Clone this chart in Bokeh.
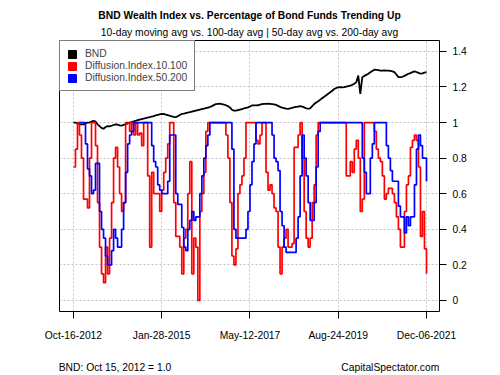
import datetime as dt
import pandas as pd
from bokeh.plotting import figure
from bokeh.models import (ColumnDataSource, FixedTicker, DatetimeTickFormatter, Legend,
                          LegendItem, Range1d, Title, LinearAxis)
from bokeh.embed import file_html
from bokeh.resources import INLINE

nan = float("nan")

# ---------------- data ----------------
START = "2012-10-16"
END = "2021-12-06"

BND = [
    1.0, 1.0, 0.995, 0.99, 0.99, 0.99, 0.995, 1.0, 1.0, 1.005,
    1.01, 1.005, 0.99, 0.98, 0.97, 0.965, 0.975, 0.98, 0.978, 0.982,
    0.986, 0.99, 0.988, 0.984, 0.983, 0.987, 0.99, 0.995, 1.0, 1.003,
    1.006, 1.01, 1.013, 1.016, 1.019, 1.022, 1.025, 1.028, 1.03, 1.033,
    1.036, 1.04, 1.043, 1.046, 1.049, 1.048, 1.045, 1.042, 1.038, 1.035,
    1.032, 1.03, 1.035, 1.042, 1.048, 1.05, 1.053, 1.056, 1.058, 1.061,
    1.064, 1.067, 1.07, 1.073, 1.076, 1.078, 1.081, 1.084, 1.087, 1.092,
    1.098, 1.104, 1.105, 1.106, 1.104, 1.101, 1.097, 1.092, 1.085, 1.072,
    1.067, 1.067, 1.07, 1.073, 1.076, 1.079, 1.082, 1.085, 1.09, 1.096,
    1.096, 1.096, 1.097, 1.1, 1.103, 1.105, 1.105, 1.106, 1.105, 1.104,
    1.102, 1.099, 1.094, 1.088, 1.084, 1.081, 1.078, 1.077, 1.079, 1.082,
    1.086, 1.088, 1.09, 1.092, 1.09, 1.085, 1.08, 1.078, 1.08, 1.092,
    1.104, 1.113, 1.12, 1.128, 1.137, 1.145, 1.153, 1.162, 1.17, 1.179,
    1.188, 1.194, 1.198, 1.199, 1.198, 1.199, 1.202, 1.205, 1.207, 1.212,
    1.218, 1.227, 1.264, 1.161, 1.255, 1.262, 1.268, 1.274, 1.282, 1.29,
    1.297, 1.296, 1.294, 1.292, 1.292, 1.293, 1.292, 1.292, 1.29, 1.287,
    1.283, 1.27, 1.255, 1.255, 1.257, 1.262, 1.268, 1.274, 1.278, 1.283,
    1.287, 1.284, 1.279, 1.275, 1.276, 1.28, 1.283,
]

DI_10_100 = [
    0.75, 0.85, 1.0, 0.93, 0.8, 0.57, 0.57, 0.52, 0.8, 1.0,
    1.0, 0.87, 0.55, 0.3, 0.15, 0.1, 0.3, 0.15, 0.35, 0.55,
    0.8, 0.86, 0.75, 0.6, 0.5, 0.55, 1.0, 1.0, 0.95, 1.0,
    0.93, 1.0, 0.93, 0.94, 0.87, 1.0, 1.0, 0.7, 0.3, 0.72,
    0.6, 0.6, 0.6, 0.5, 0.62, 0.72, 0.8, 0.88, 1.0, 1.0,
    0.55, 0.36, 0.36, 0.3, 0.15, 0.35, 0.4, 0.6, 0.78, 0.15,
    0.35, 0.3, 0.0, 0.5, 0.6, 0.72, 0.95, 1.0, 1.0, 1.0,
    1.0, 1.0, 1.0, 1.0, 1.0, 1.0, 0.93, 0.8, 0.55, 0.25,
    0.2, 0.29, 0.6, 0.65, 0.7, 0.8, 1.0, 1.0, 1.0, 1.0,
    1.0, 0.9, 0.88, 0.93, 1.0, 1.0, 0.72, 0.62, 0.65, 0.6,
    0.52, 0.5, 0.3, 0.15, 0.3, 0.35, 0.4, 0.3, 0.3, 0.32,
    0.86, 0.86, 0.93, 1.0, 0.8, 0.5, 0.35, 0.3, 0.35, 0.55,
    0.65, 0.93, 1.0, 1.0, 1.0, 1.0, 1.0, 1.0, 1.0, 1.0,
    1.0, 1.0, 1.0, 1.0, 1.0, 1.0, 0.7, 0.7, 0.78, 0.72,
    0.85, 0.9, 0.8, 0.5, 0.57, 1.0, 1.0, 1.0, 1.0, 1.0,
    0.95, 0.85, 0.8, 0.78, 0.7, 0.57, 0.6, 0.63, 0.63, 0.6,
    0.55, 0.47, 0.4, 0.3, 0.3, 0.5, 0.65, 0.7, 0.86, 0.9,
    0.93, 0.9, 0.75, 0.36, 0.5, 0.29, 0.15,
]

DI_50_200 = [
    nan, nan, nan, 1.0, 1.0, 1.0, 0.88, 0.74, 0.7, 0.6,
    0.62, 0.77, 0.77, 0.5, 0.4, 0.35, 0.25, 0.2, 0.2, 0.28,
    0.4, 0.35, 0.3, 0.3, 0.4, 0.55, 0.72, 0.88, 0.93, 0.95,
    1.0, 1.0, 1.0, 1.0, 1.0, 1.0, 1.0, 1.0, 1.0, 0.87,
    0.78, 0.75, 0.65, 0.62, 0.6, 0.6, 0.6, 0.67, 0.93, 0.93,
    0.93, 0.6, 0.54, 0.54, 0.41, 0.3, 0.28, 0.4, 0.45, 0.5,
    0.45, 0.47, 0.47, 0.6, 0.7, 0.8, 0.87, 0.93, 1.0, 1.0,
    1.0, 1.0, 1.0, 1.0, 1.0, 1.0, 1.0, 1.0, 1.0, 0.85,
    0.4, 0.35, 0.35, 0.35, 0.35, 0.35, 0.4, 0.5, 0.65, 0.78,
    0.88, 1.0, 1.0, 1.0, 1.0, 1.0, 1.0, 1.0, 1.0, 0.93,
    0.8, 0.78, 0.73, 0.5, 0.42, 0.3, 0.27, 0.27, 0.27, 0.27,
    0.27, 0.35, 0.47, 0.7, 0.93, 0.8, 0.7, 0.55, 0.45, 0.45,
    0.55, 0.75, 0.95, 1.0, 1.0, 1.0, 1.0, 1.0, 1.0, 1.0,
    1.0, 1.0, 1.0, 1.0, 1.0, 1.0, 1.0, 1.0, 1.0, 1.0,
    1.0, 1.0, 1.0, 1.0, 0.8, 0.72, 0.6, 0.6, 0.8, 0.88,
    1.0, 1.0, 1.0, 1.0, 1.0, 1.0, 0.87, 0.8, 0.73, 0.67,
    0.67, 0.67, 0.53, 0.47, 0.47, 0.38, 0.47, 0.42, 0.47, 0.47,
    0.65, 0.85, 0.93, 0.87, 0.8, 0.8, 0.67,
]

SERIES_NAMES = ["BND", "Diffusion.Index.10.100", "Diffusion.Index.50.200"]
SERIES_COLORS = ["black", "red", "blue"]

X_TICK_DATES = ["2012-10-16", "2015-01-28", "2017-05-12", "2019-08-24", "2021-12-06"]
Y_TICKS = [0, 0.2, 0.4, 0.6, 0.8, 1.0, 1.2, 1.4]
Y_TICK_LABELS = ["0", "0.2", "0.4", "0.6", "0.8", "1", "1.2", "1.4"]

TITLE = "BND Wealth Index vs. Percentage of Bond Funds Trending Up"
SUBTITLE = "10-day moving avg vs. 100-day avg | 50-day avg vs. 200-day avg"
NOTE_LEFT = "BND: Oct 15, 2012 = 1.0"
NOTE_RIGHT = "CapitalSpectator.com"

FONT = "Liberation Sans"
FS = "10.3px"

# ---------------- layout constants ----------------
X_START = pd.Timestamp("2012-06-06")
X_END = pd.Timestamp("2022-04-08")
FRAME_LEFT, FRAME_W = 59, 380  # px


def px_to_ms(px):
    """horizontal pixel position (page) -> x value (ms), for placing the footnotes"""
    a, b = X_START.value // 10**6, X_END.value // 10**6
    return int(a + (px - FRAME_LEFT) / FRAME_W * (b - a))


# ---------------- plot ----------------
dates = pd.date_range(START, END, periods=len(BND))
src = ColumnDataSource(dict(date=dates, bnd=BND, d10=DI_10_100, d50=DI_50_200))

p = figure(width=498, height=375, x_axis_type="datetime", y_axis_location="right",
           x_range=Range1d(X_START.to_pydatetime(), X_END.to_pydatetime()),
           y_range=Range1d(-0.062, 1.461),
           output_backend="svg", toolbar_location=None,
           min_border_left=59, min_border_right=59, min_border_top=40, min_border_bottom=64)

p.outline_line_color = "black"
p.outline_line_width = 1
p.background_fill_color = "white"
p.border_fill_color = "white"

x_ticker = FixedTicker(ticks=[pd.Timestamp(d).value // 10**6 for d in X_TICK_DATES])
p.xaxis.ticker = x_ticker
p.xaxis.formatter = DatetimeTickFormatter(
    milliseconds="%b-%d-%Y", seconds="%b-%d-%Y", minsec="%b-%d-%Y", minutes="%b-%d-%Y",
    hourmin="%b-%d-%Y", hours="%b-%d-%Y", days="%b-%d-%Y", months="%b-%d-%Y", years="%b-%d-%Y")
y_ticker = FixedTicker(ticks=Y_TICKS)
p.yaxis.ticker = y_ticker
p.yaxis.major_label_overrides = {t: l for t, l in zip(Y_TICKS, Y_TICK_LABELS)}

for ax in (p.xaxis, p.yaxis):
    ax.axis_line_color = None
    ax.major_tick_line_color = "black"
    ax.major_tick_in = 0
    ax.major_tick_out = 7
    ax.minor_tick_line_color = None
    ax.major_label_text_font = FONT
    ax.major_label_text_font_size = FS
    ax.major_label_text_color = "black"
p.xaxis.major_label_standoff = 11
p.yaxis.major_label_standoff = 6

p.xgrid.ticker = x_ticker
p.ygrid.ticker = y_ticker
for g in (p.xgrid, p.ygrid):
    g.grid_line_color = "#c4c4c4"
    g.grid_line_dash = "2 2"
    g.grid_line_width = 1

p.line("date", "bnd", source=src, color=SERIES_COLORS[0], line_width=1.8)
p.step("date", "d10", source=src, mode="after", color=SERIES_COLORS[1], line_width=1.7)
p.step("date", "d50", source=src, mode="after", color=SERIES_COLORS[2], line_width=1.7)

# legend swatches (not drawn in the plot area: NaN coordinates)
items = []
for name, c in zip(SERIES_NAMES, SERIES_COLORS):
    r = p.quad(left=[nan], right=[nan], top=[nan], bottom=[nan], fill_color=c, line_color=c)
    items.append(LegendItem(label=name, renderers=[r]))

legend = Legend(items=items, location="top_left", margin=0, padding=7, spacing=1,
                glyph_width=10, glyph_height=10, label_height=10, label_standoff=8,
                border_line_color="black", border_line_width=1,
                background_fill_color="white", background_fill_alpha=1,
                label_text_font=FONT, label_text_font_size=FS)
p.add_layout(legend)

# titles (subtitle first: it sits closest to the frame)
p.add_layout(Title(text=SUBTITLE, align="center", text_font=FONT, text_font_size=FS,
                   text_font_style="normal", text_color="black", standoff=5), "above")
p.add_layout(Title(text=TITLE, align="center", text_font=FONT, text_font_size=FS,
                   text_font_style="bold", text_color="black", standoff=3), "above")

# footnotes: a tick-less axis under the date axis carries the two texts
note_ticks = [px_to_ms(114.5), px_to_ms(389.8)]
note_axis = LinearAxis(ticker=FixedTicker(ticks=note_ticks),
                       major_label_overrides={note_ticks[0]: NOTE_LEFT, note_ticks[1]: NOTE_RIGHT},
                       axis_line_color=None, major_tick_line_color=None,
                       minor_tick_line_color=None, major_tick_in=0, major_tick_out=0,
                       major_label_standoff=18, major_label_text_font=FONT,
                       major_label_text_font_size=FS, major_label_text_color="black")
p.add_layout(note_axis, "below")

open("out.html", "w").write(file_html(p, INLINE))
